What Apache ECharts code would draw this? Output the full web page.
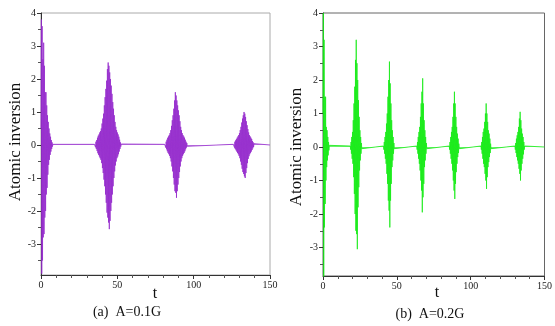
<!DOCTYPE html>
<html>
<head>
<meta charset="utf-8">
<script src="https://cdn.jsdelivr.net/npm/echarts@6/dist/echarts.min.js"></script>
<style>html,body{margin:0;padding:0;background:#fff}#c{width:555px;height:326px}</style>
</head>
<body>
<div id="c"></div>
<script>
// ---- data ----
var xTicks = [0, 50, 100, 150];
var yTicks = [-3, -2, -1, 0, 1, 2, 3, 4];
var yMinorTicks = [-3.5, -2.5, -1.5, -0.5, 0.5, 1.5, 2.5, 3.5];
var step = 0.25;
var tEnd = 150;

// Panel (a): A = 0.1G — burst start times and sampled values
var aStarts = [0, 35, 81, 126];
var aBurst1 = [0.5, 3.8, -3.9, 3.6, -3.5, 2.6, -2.8, 3.1, -2.7, 2.4, -2.2, 1.6, -2.0, 1.6, -1.5, 1.2, -1.3, 0.9, -0.9, 0.7, -0.6, 0.5, -0.45, 0.35, -0.3, 0.25, -0.2, 0.15, -0.12, 0.08, -0.05, 0.02, 0];
var aBurst2 = [0.02, -0.03, 0.05, -0.07, 0.1, -0.12, 0.15, -0.18, 0.22, -0.25, 0.28, -0.3, 0.32, -0.35, 0.38, -0.4, 0.42, -0.45, 0.5, -0.55, 0.65, -0.7, 0.8, -0.85, 0.95, -1.05, 1.2, -1.25, 1.45, -1.5, 1.7, -1.75, 1.95, -2.05, 2.3, -2.2, 2.5, -2.35, 2.4, -2.55, 2.2, -2.3, 2.0, -2.0, 1.8, -1.75, 1.55, -1.5, 1.3, -1.25, 1.1, -1.0, 0.9, -0.8, 0.7, -0.62, 0.55, -0.5, 0.45, -0.4, 0.38, -0.35, 0.32, -0.28, 0.25, -0.2, 0.16, -0.12, 0.08, -0.05, 0.03, -0.01, 0];
var aBurst3 = [0.02, -0.04, 0.06, -0.08, 0.1, -0.13, 0.16, -0.19, 0.22, -0.24, 0.26, -0.28, 0.3, -0.33, 0.36, -0.4, 0.45, -0.5, 0.58, -0.65, 0.75, -0.8, 0.9, -1.0, 1.1, -1.2, 1.35, -1.4, 1.6, -1.45, 1.5, -1.6, 1.35, -1.4, 1.2, -1.2, 1.05, -1.0, 0.9, -0.82, 0.72, -0.65, 0.55, -0.5, 0.45, -0.4, 0.36, -0.33, 0.3, -0.28, 0.26, -0.24, 0.22, -0.19, 0.16, -0.13, 0.1, -0.08, 0.06, -0.04, 0.02, 0];
var aBurst4 = [0.02, -0.04, 0.06, -0.08, 0.1, -0.12, 0.14, -0.16, 0.18, -0.2, 0.22, -0.24, 0.26, -0.28, 0.3, -0.33, 0.36, -0.4, 0.45, -0.5, 0.55, -0.6, 0.68, -0.72, 0.8, -0.82, 0.9, -0.88, 1.0, -0.95, 0.95, -1.0, 0.85, -0.85, 0.72, -0.7, 0.6, -0.55, 0.48, -0.42, 0.38, -0.34, 0.3, -0.28, 0.26, -0.24, 0.22, -0.2, 0.18, -0.15, 0.12, -0.1, 0.08, -0.06, 0.04, -0.02, 0];
var aBursts = [aBurst1, aBurst2, aBurst3, aBurst4];

// Panel (b): A = 0.2G
var bStarts = [0, 18.5, 41, 63.5, 85.5, 107, 130];
var bBurst1 = [1.0, 4.0, -3.9, 3.2, -2.4, 1.5, -1.7, 1.5, -1.0, 0.6, -0.6, 0.5, -0.4, 0.3, -0.25, 0.15, -0.1, 0.05, 0];
var bBurst2 = [0.03, -0.08, 0.15, -0.2, 0.3, -0.35, 0.45, -0.5, 0.8, -0.9, 1.3, -1.4, 1.8, -2.0, 2.6, -2.5, 3.2, -2.6, 2.5, -3.05, 2.0, -1.8, 1.4, -1.2, 0.9, -0.7, 0.5, -0.4, 0.3, -0.2, 0.12, -0.05, 0];
var bBurst3 = [0.03, -0.08, 0.15, -0.2, 0.3, -0.35, 0.45, -0.5, 0.7, -0.8, 1.0, -1.1, 1.5, -1.6, 2.0, -1.9, 2.55, -2.4, 1.9, -1.6, 1.3, -1.1, 0.8, -0.6, 0.5, -0.4, 0.3, -0.2, 0.12, -0.05, 0];
var bBurst4 = [0.03, -0.08, 0.15, -0.2, 0.3, -0.35, 0.45, -0.5, 0.6, -0.7, 0.9, -1.0, 1.3, -1.3, 1.65, -1.95, 2.05, -1.5, 1.3, -1.1, 0.8, -0.6, 0.5, -0.4, 0.3, -0.2, 0.12, -0.05, 0];
var bBurst5 = [0.03, -0.08, 0.15, -0.2, 0.3, -0.35, 0.45, -0.5, 0.6, -0.7, 0.9, -1.0, 1.3, -1.3, 1.65, -1.55, 1.3, -1.1, 0.9, -0.75, 0.6, -0.5, 0.4, -0.3, 0.25, -0.18, 0.1, -0.05, 0];
var bBurst6 = [0.03, -0.08, 0.15, -0.2, 0.3, -0.35, 0.45, -0.5, 0.55, -0.6, 0.75, -0.8, 1.0, -1.0, 1.3, -1.25, 1.0, -0.9, 0.75, -0.6, 0.5, -0.45, 0.4, -0.3, 0.25, -0.18, 0.1, -0.05, 0];
var bBurst7 = [0.03, -0.08, 0.12, -0.18, 0.25, -0.3, 0.35, -0.4, 0.45, -0.5, 0.6, -0.65, 0.85, -0.8, 1.05, -1.0, 0.8, -0.7, 0.55, -0.5, 0.4, -0.35, 0.3, -0.22, 0.15, -0.08, 0.03, 0];
var bBursts = [bBurst1, bBurst2, bBurst3, bBurst4, bBurst5, bBurst6, bBurst7];

function buildSeries(starts, bursts) {
  var out = [];
  for (var k = 0; k < bursts.length; k++) {
    for (var i = 0; i < bursts[k].length; i++) {
      out.push([starts[k] + i * step, bursts[k][i]]);
    }
  }
  out.push([tEnd, 0]);
  return out;
}
var aData = buildSeries(aStarts, aBursts);
var bData = buildSeries(bStarts, bBursts);

var serif = '"Liberation Serif","DejaVu Serif",serif';

function xAxisCfg(gi) {
  return {
    type: 'value', gridIndex: gi, min: 0, max: 150, interval: 50, position: 'bottom',
    axisLine: {show: true, onZero: false, lineStyle: {color: '#333', width: 1}},
    axisTick: {show: true, inside: false, length: 4, lineStyle: {color: '#333'}},
    minorTick: {show: true, splitNumber: 5, length: 3, lineStyle: {color: '#555'}},
    axisLabel: {show: true, fontFamily: serif, fontSize: 10, color: '#222', margin: 5},
    splitLine: {show: false}
  };
}
function yAxisCfg(gi, min) {
  return {
    type: 'value', gridIndex: gi, min: min, max: 4, position: 'left',
    axisLine: {show: true, onZero: false, lineStyle: {color: '#333', width: 1}},
    axisTick: {show: true, inside: false, length: 4, customValues: yTicks, lineStyle: {color: '#333'}},
    axisLabel: {show: true, customValues: yTicks, fontFamily: serif, fontSize: 10, color: '#222', margin: 5},
    splitLine: {show: false}
  };
}
function yMinorCfg(gi, min) {
  return {
    type: 'value', gridIndex: gi, min: min, max: 4, position: 'left',
    axisLine: {show: false, onZero: false},
    axisTick: {show: true, inside: false, length: 3, customValues: yMinorTicks, lineStyle: {color: '#555'}},
    axisLabel: {show: false},
    splitLine: {show: false}
  };
}

var chart = echarts.init(document.getElementById('c'), null, {renderer: 'canvas'});
chart.setOption({
  backgroundColor: '#fff',
  animation: false,
  grid: [
    {left: 41, top: 13, width: 229, height: 262, show: true, borderColor: '#aaa', borderWidth: 1, backgroundColor: 'transparent'},
    {left: 323, top: 13, width: 229, height: 263, show: true, borderColor: '#666', borderWidth: 1, backgroundColor: 'transparent'}
  ],
  xAxis: [xAxisCfg(0), xAxisCfg(1)],
  yAxis: [yAxisCfg(0, -3.94), yAxisCfg(1, -3.85), yMinorCfg(0, -3.94), yMinorCfg(1, -3.85)],
  series: [
    {type: 'line', xAxisIndex: 0, yAxisIndex: 0, data: aData, showSymbol: false, symbol: 'none',
     lineStyle: {color: 'rgba(150,45,205,0.8)', width: 1},
     areaStyle: {color: 'rgba(150,45,205,0.85)', origin: 0}, silent: true},
    {type: 'line', xAxisIndex: 1, yAxisIndex: 1, data: bData, showSymbol: false, symbol: 'none',
     lineStyle: {color: 'rgba(25,235,25,0.8)', width: 1},
     areaStyle: {color: 'rgba(20,235,20,0.9)', origin: 0}, silent: true}
  ],
  graphic: [
    {type: 'text', x: 16, y: 142, rotation: Math.PI / 2,
     style: {text: 'Atomic inversion', font: '17px ' + serif, fill: '#111', textAlign: 'center', textVerticalAlign: 'middle'}},
    {type: 'text', x: 297, y: 147, rotation: Math.PI / 2,
     style: {text: 'Atomic inversion', font: '17px ' + serif, fill: '#111', textAlign: 'center', textVerticalAlign: 'middle'}},
    {type: 'text', x: 155, y: 294,
     style: {text: 't', font: '16px ' + serif, fill: '#111', textAlign: 'center', textVerticalAlign: 'middle'}},
    {type: 'text', x: 437, y: 293,
     style: {text: 't', font: '16px ' + serif, fill: '#111', textAlign: 'center', textVerticalAlign: 'middle'}},
    {type: 'text', x: 127, y: 312,
     style: {text: '(a)  A=0.1G', font: '14px ' + serif, fill: '#111', textAlign: 'center', textVerticalAlign: 'middle'}},
    {type: 'text', x: 430, y: 314,
     style: {text: '(b)  A=0.2G', font: '14px ' + serif, fill: '#111', textAlign: 'center', textVerticalAlign: 'middle'}}
  ]
});
</script>
</body>
</html>
